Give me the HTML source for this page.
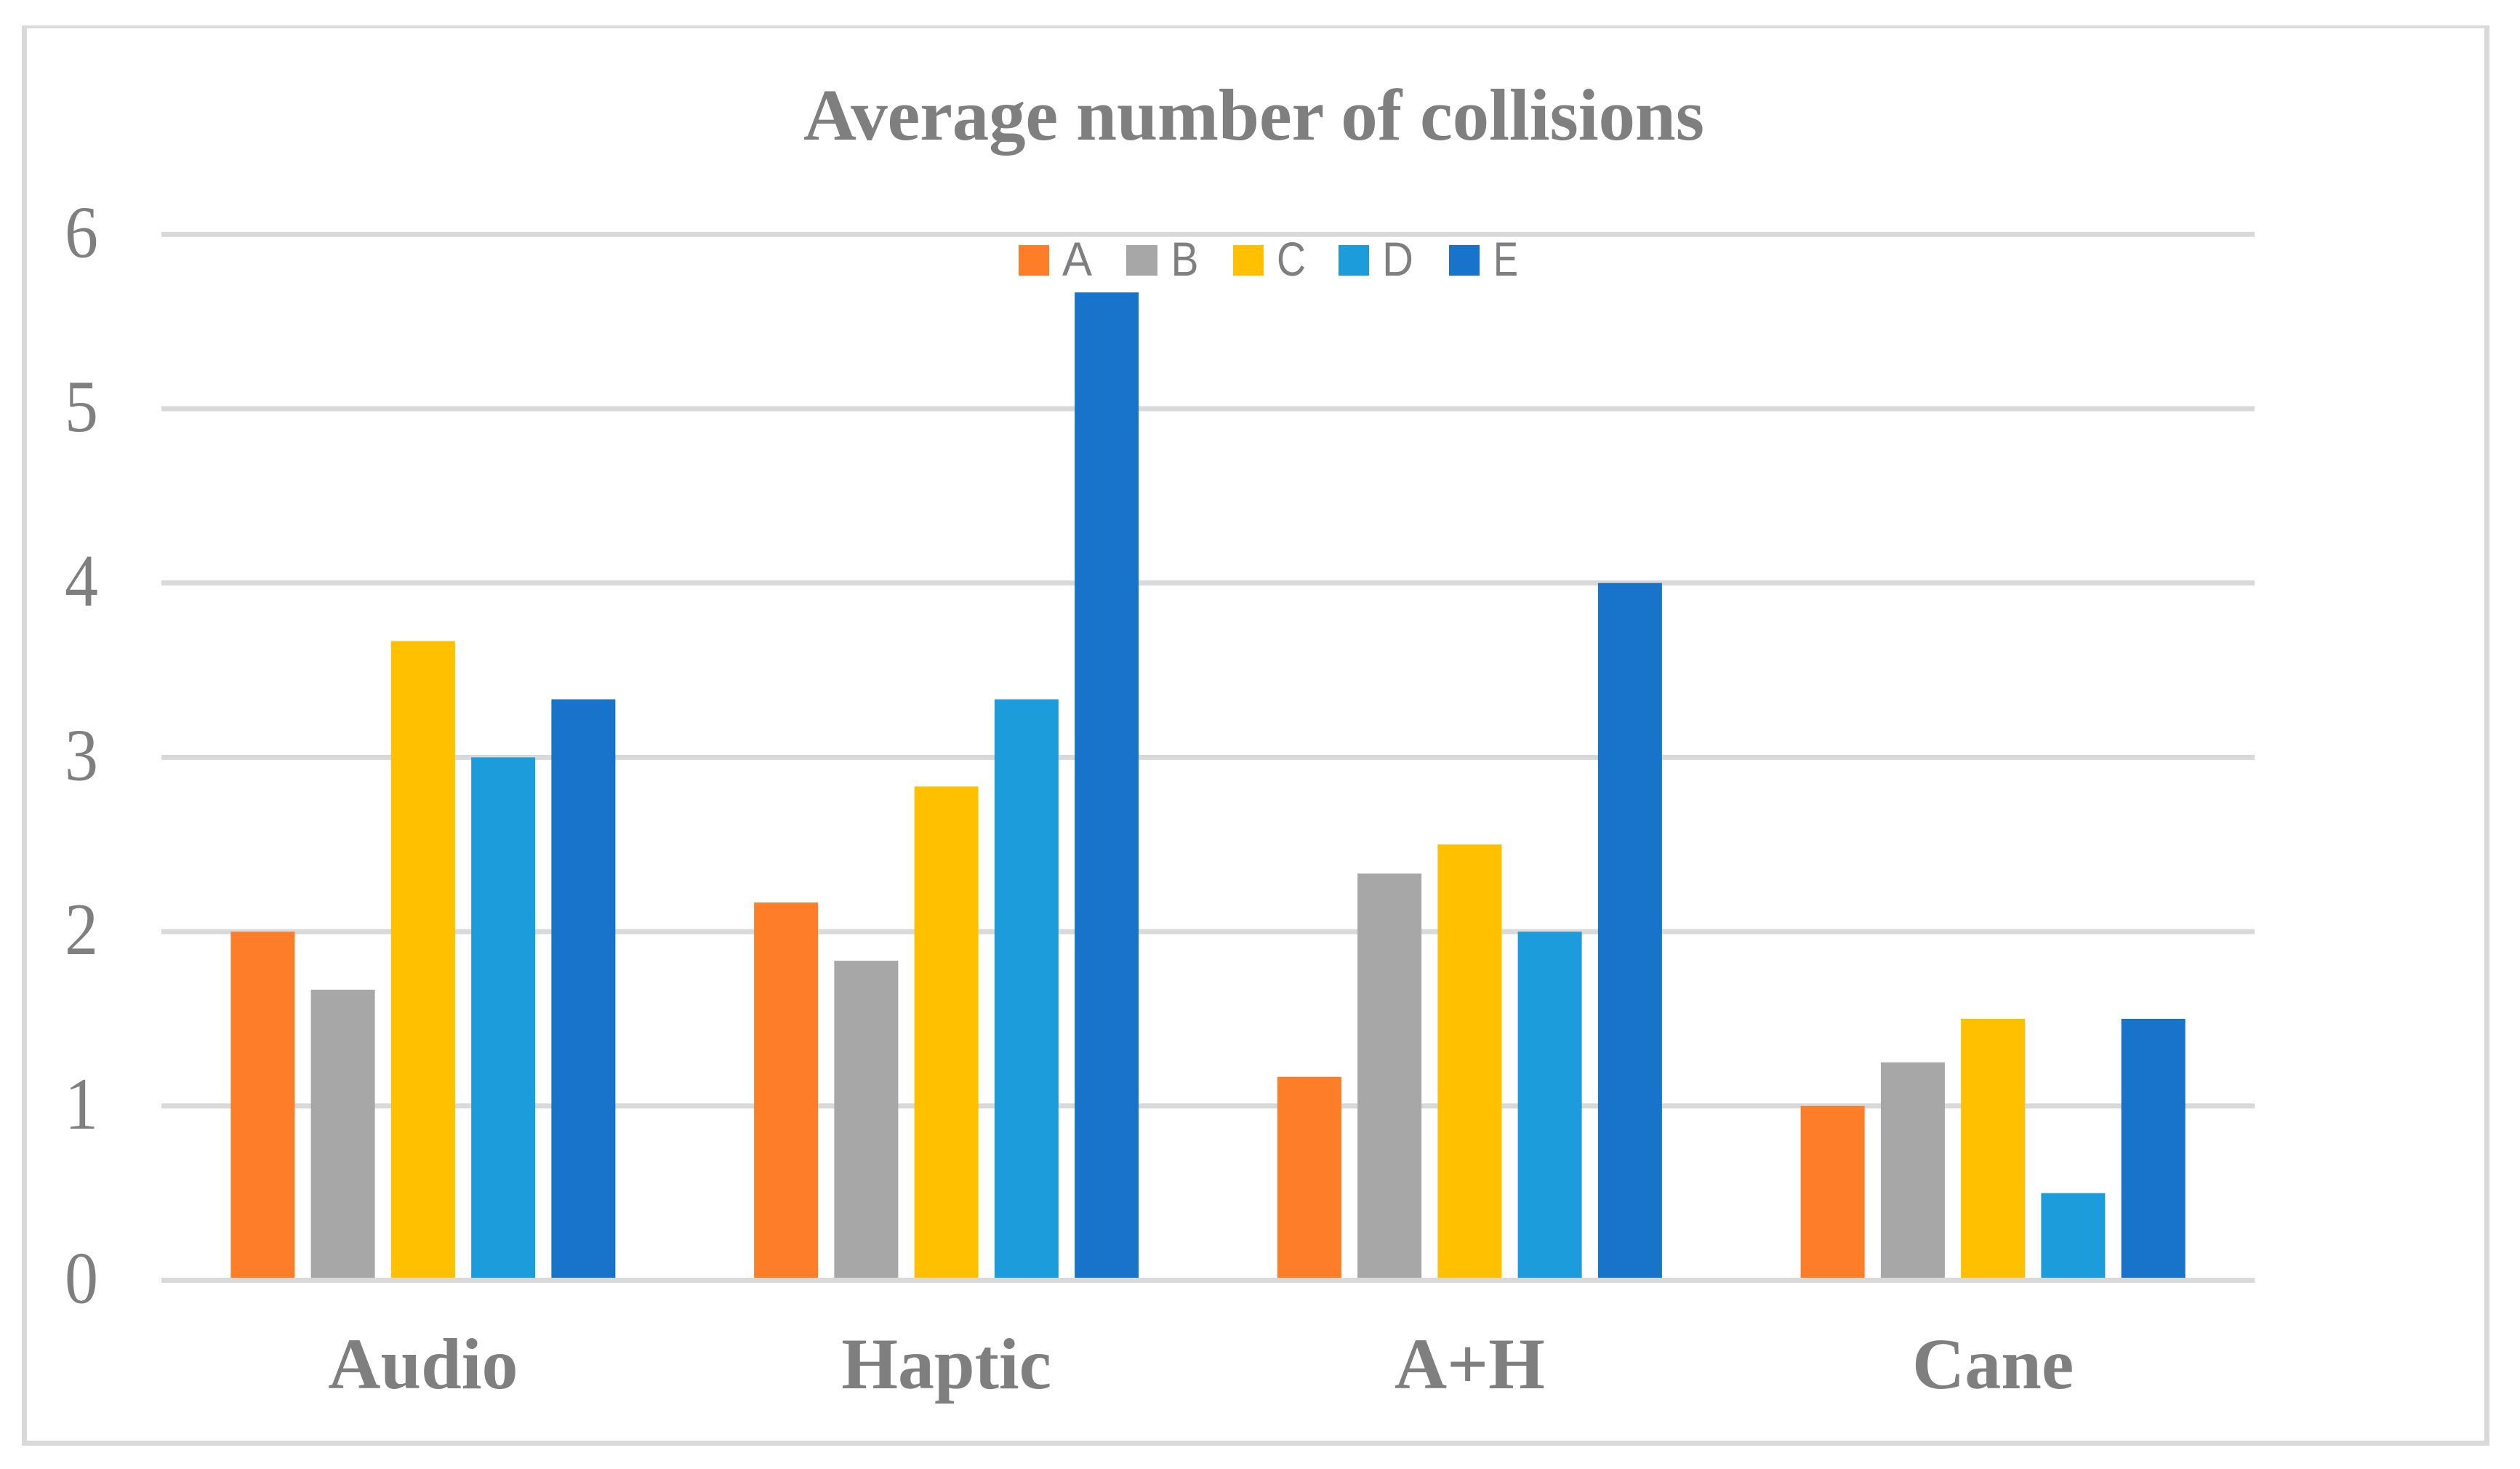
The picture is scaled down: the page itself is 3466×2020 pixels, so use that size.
<!DOCTYPE html>
<html lang="en">
<head>
<meta charset="utf-8">
<title>Average number of collisions</title>
<style>
html,body{margin:0;padding:0;background:#fff;}
svg{display:block;}
text{fill:#7f7f7f;}
.serif{font-family:"Liberation Serif",serif;}
.sans{font-family:"Liberation Sans",sans-serif;}
</style>
</head>
<body>
<svg id="chart" xmlns="http://www.w3.org/2000/svg" width="3466" height="2020" viewBox="0 0 3466 2020">
  <rect x="30" y="35" width="3394" height="1953" fill="#d9d9d9"/>
  <rect x="37" y="39" width="3380" height="1942" fill="#ffffff"/>
  <text class="serif" x="1105" y="192" font-size="101" font-weight="bold" textLength="1239" lengthAdjust="spacing">Average number of collisions</text>
  <g id="grid"></g>
  <g id="yticks"></g>
  <g id="bars"></g>
  <g id="axis"></g>
  <g id="xticks"></g>
  <g>
    <g>
      <rect x="1401" y="337" width="42" height="42" fill="#fe7d28"/>
      <text class="sans" x="1461" y="379" font-size="66" textLength="41" lengthAdjust="spacingAndGlyphs">A</text>
    </g>
    <g>
      <rect x="1549" y="337" width="43" height="42" fill="#a7a7a7"/>
      <text class="sans" x="1610.5" y="379" font-size="66" textLength="38" lengthAdjust="spacingAndGlyphs">B</text>
    </g>
    <g>
      <rect x="1696" y="337" width="42" height="42" fill="#ffc000"/>
      <text class="sans" x="1756" y="379" font-size="66" textLength="40" lengthAdjust="spacingAndGlyphs">C</text>
    </g>
    <g>
      <rect x="1841" y="337" width="42" height="42" fill="#1c9cdb"/>
      <text class="sans" x="1901" y="379" font-size="66" textLength="43" lengthAdjust="spacingAndGlyphs">D</text>
    </g>
    <g>
      <rect x="1993" y="337" width="42" height="42" fill="#1873ca"/>
      <text class="sans" x="2054" y="379" font-size="66" textLength="34" lengthAdjust="spacingAndGlyphs">E</text>
    </g>
  </g>
</svg>
<script>
const categories = ["Audio", "Haptic", "A+H", "Cane"];
const yTickLabels = [0, 1, 2, 3, 4, 5, 6];
const seriesA = [2, 2.167, 1.167, 1];
const seriesB = [1.667, 1.833, 2.333, 1.25];
const seriesC = [3.667, 2.833, 2.5, 1.5];
const seriesD = [3, 3.333, 2, 0.5];
const seriesE = [3.333, 5.667, 4, 1.5];

const NS = "http://www.w3.org/2000/svg";
const plotLeft = 222, plotRight = 3101;
const y0 = 1760.5, pxPerUnit = 239.7;
const barWidth = 88, barStep = 110.25;
const catWidth = (plotRight - plotLeft) / categories.length;
const gridThickness = 7;

function yScale(v) { return y0 - v * pxPerUnit; }
function catCenter(i) { return plotLeft + catWidth * (i + 0.5); }
function make(tag, attrs) {
  const el = document.createElementNS(NS, tag);
  for (const k in attrs) el.setAttribute(k, attrs[k]);
  return el;
}

const gridG = document.getElementById("grid");
const axisG = document.getElementById("axis");
const yG = document.getElementById("yticks");
const barsG = document.getElementById("bars");
const xG = document.getElementById("xticks");

yTickLabels.forEach(function (t) {
  const line = make("rect", {
    x: plotLeft, y: yScale(t) - gridThickness / 2,
    width: plotRight - plotLeft, height: gridThickness, fill: "#d9d9d9"
  });
  
  
  (t === 0 ? axisG : gridG).appendChild(line);

  const label = make("text", {
    x: 112, y: yScale(t) + 31, "text-anchor": "middle",
    "font-size": 102, "class": "serif",
    textLength: 46, lengthAdjust: "spacingAndGlyphs"
  });
  
  
  label.textContent = t;
  yG.appendChild(label);
});

const series = [
  { key: "a", values: seriesA, color: "#fe7d28" },
  { key: "b", values: seriesB, color: "#a7a7a7" },
  { key: "c", values: seriesC, color: "#ffc000" },
  { key: "d", values: seriesD, color: "#1c9cdb" },
  { key: "e", values: seriesE, color: "#1873ca" }
];

series.forEach(function (s, si) {
  s.values.forEach(function (v, ci) {
    const cx = catCenter(ci) + (si - (series.length - 1) / 2) * barStep;
    const bar = make("rect", {
      x: cx - barWidth / 2, y: yScale(v),
      width: barWidth, height: yScale(0) - yScale(v), fill: s.color
    });
    
    
    barsG.appendChild(bar);
  });
});

categories.forEach(function (c, i) {
  const label = make("text", {
    x: catCenter(i), y: 1909, "text-anchor": "middle",
    "font-size": 100, "font-weight": "bold", "class": "serif"
  });
  
  
  label.textContent = c;
  xG.appendChild(label);
});
</script>
</body>
</html>
